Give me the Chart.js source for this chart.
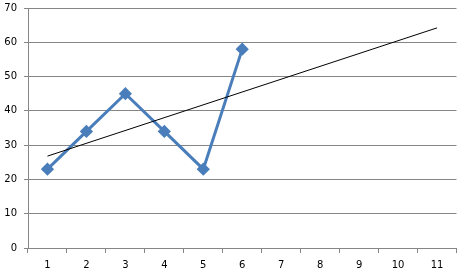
<!DOCTYPE html>
<html><head><meta charset="utf-8">
<script src="https://cdn.jsdelivr.net/npm/chart.js@4"></script>
<style>html,body{margin:0;padding:0;background:#fff;}#wrap{width:464px;height:278px;}</style>
</head><body><div id="wrap"><canvas id="c" width="464" height="278"></canvas></div>
<script>
const categories = ['1','2','3','4','5','6','7','8','9','10','11'];
const seriesValues = [23, 34, 45, 34, 23, 58, null, null, null, null, null];
const trendValues = [26.8, null, null, null, null, null, null, null, null, null, 64.2];
const yTicks = [0, 10, 20, 30, 40, 50, 60, 70];

const gridColor = '#868686';
new Chart(document.getElementById('c'), {
  type: 'line',
  data: {
    labels: categories,
    datasets: [
      { data: seriesValues, borderColor: '#4A7EBB', backgroundColor: '#4A7EBB', borderWidth: 3,
        pointStyle: 'rectRot', pointRadius: 4.5, pointHoverRadius: 4.5, tension: 0, order: 1 },
      { data: trendValues, borderColor: '#000', borderWidth: 1, pointRadius: 0, spanGaps: true, tension: 0, order: 0 }
    ]
  },
  options: {
    responsive: false, animation: false, maintainAspectRatio: false,
    plugins: { legend: { display: false }, tooltip: { enabled: false } },
    layout: { padding: { top: 8, right: 6, left: 0, bottom: 0 } },
    scales: {
      x: {
        offset: true,
        grid: { offset: true, drawOnChartArea: false, drawTicks: true, tickLength: 5, color: gridColor },
        border: { color: gridColor },
        ticks: { color: '#000', font: { family: 'DejaVu Sans', size: 10 }, padding: 6, maxRotation: 0 },
        afterFit: (s) => { s.height = 30; s.paddingLeft = 0; s.paddingRight = 0; }
      },
      y: {
        min: 0, max: 70,
        afterBuildTicks: (s) => { s.ticks = yTicks.map(v => ({ value: v })); },
        grid: { color: gridColor, tickLength: 4 },
        border: { color: gridColor },
        ticks: { color: '#000', font: { family: 'DejaVu Sans', size: 10 }, padding: 7 },
        afterFit: (s) => { s.width = 28; s.paddingTop = 0; s.paddingBottom = 0; }
      }
    }
  }
});
</script></body></html>
